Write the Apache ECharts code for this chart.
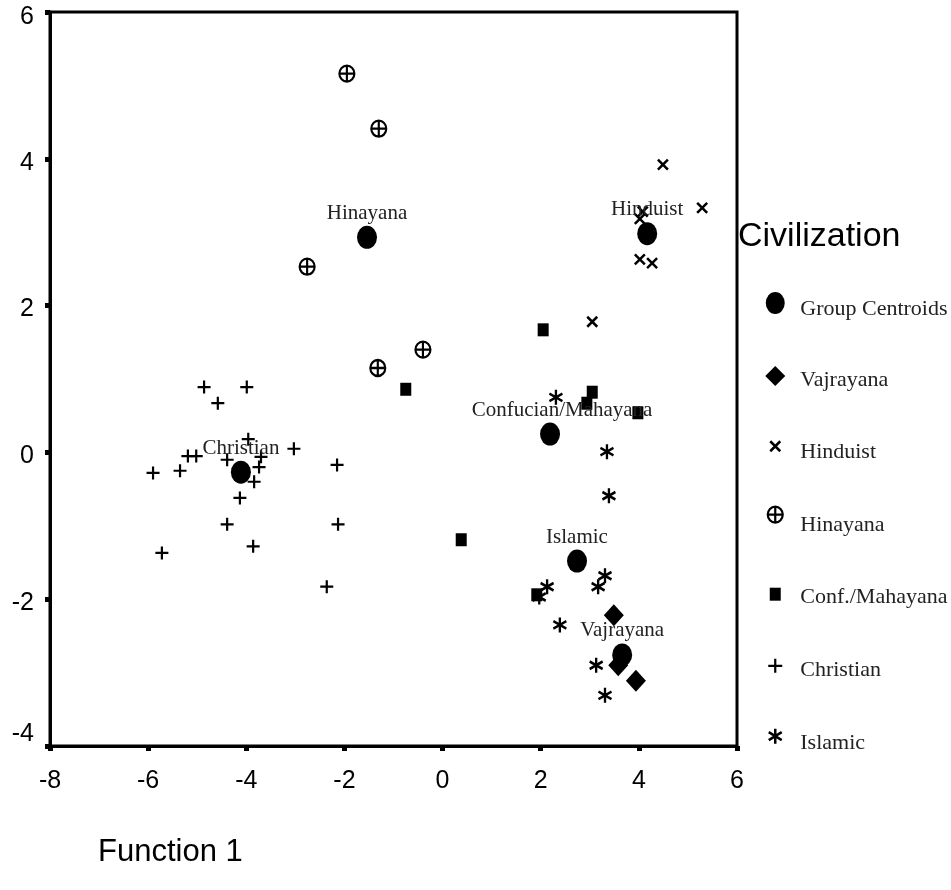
<!DOCTYPE html>
<html>
<head>
<meta charset="utf-8">
<script src="https://cdn.jsdelivr.net/npm/echarts@6/dist/echarts.min.js"></script>
<style>
  html, body { margin: 0; padding: 0; background: #fff; }
  #chart { width: 951px; height: 890px; }
</style>
</head>
<body>
<div id="chart"></div>
<script>
// discriminant scores
const centroidNames = ['Hinayana', 'Hinduist', 'Confucian/Mahayana', 'Christian', 'Islamic', 'Vajrayana'];
const centroidX = [-1.54, 4.17, 2.19, -4.11, 2.74, 3.66];
const centroidY = [2.93, 2.98, 0.25, -0.27, -1.48, -2.76];

const vajrayanaX = [3.49, 3.58, 3.94];
const vajrayanaY = [-2.22, -2.90, -3.11];

const hinduistX = [4.49, 5.29, 4.08, 4.02, 4.02, 4.27, 3.05];
const hinduistY = [3.92, 3.33, 3.28, 3.18, 2.63, 2.58, 1.78];

const hinayanaX = [-1.95, -1.30, -2.76, -0.40, -1.32];
const hinayanaY = [5.16, 4.41, 2.53, 1.40, 1.15];

const confX = [-0.75, 2.05, 3.05, 2.94, 3.98, 0.38, 1.92];
const confY = [0.86, 1.67, 0.82, 0.67, 0.54, -1.19, -1.94];

const christianX = [-4.86, -3.99, -4.58, -3.96, -3.03, -5.19, -5.02, -4.39, -3.70, -3.74,
  -5.90, -5.35, -2.15, -3.84, -4.13, -4.39, -2.13, -3.86, -5.72, -2.36];
const christianY = [0.89, 0.89, 0.67, 0.18, 0.05, -0.05, -0.05, -0.10, -0.06, -0.20,
  -0.28, -0.25, -0.17, -0.40, -0.62, -0.98, -0.98, -1.28, -1.37, -1.83];

const islamicX = [2.31, 3.35, 3.39, 2.13, 1.97, 3.31, 3.17, 2.39, 3.13, 3.31];
const islamicY = [0.75, 0.01, -0.59, -1.83, -1.97, -1.68, -1.83, -2.35, -2.90, -3.31];

const legendNames = ['Group Centroids', 'Vajrayana', 'Hinduist', 'Hinayana', 'Conf./Mahayana', 'Christian', 'Islamic'];

const pair = (xs, ys) => xs.map((x, i) => [x, ys[i]]);

// line symbols (stroked)
const symX = 'path://M0,0L10,10M10,0L0,10';
const symPlus = 'path://M5,0L5,10M0,5L10,5';
const symAst = 'path://M5,0L5,10M0.7,2.5L9.3,7.5M0.7,7.5L9.3,2.5';
const symCirclePlus = 'path://M10,5A5,5 0 1 1 0,5A5,5 0 1 1 10,5ZM5,0L5,10M0,5L10,5';

// legend icons drawn inside a 40x40 box; the shape sits a bit above the text line
const pad = 'M0,0M40,40';
const icons = [
  'path://' + pad + 'M29.5,14A9.5,11 0 1 1 10.5,14A9.5,11 0 1 1 29.5,14Z',
  'path://' + pad + 'M20,6L30,16L20,26L10,16Z',
  'path://' + pad + 'M15,9L25,19M25,9L15,19',
  'path://' + pad + 'M27.5,9A7.5,8 0 1 1 12.5,9A7.5,8 0 1 1 27.5,9ZM20,1L20,17M12.5,9L27.5,9',
  'path://' + pad + 'M14.5,10L25.5,10L25.5,23L14.5,23Z',
  'path://' + pad + 'M20,9L20,23M13,16L27,16',
  'path://' + pad + 'M20,5.5L20,20.5M13.5,9L26.5,17M13.5,17L26.5,9'
];
const iconBorder = [0, 0, 2.5, 2.2, 0, 2.2, 2.5];

const serif = '"Liberation Serif", "DejaVu Serif", serif';
const sans = '"Liberation Sans", Arial, sans-serif';
const clear = 'rgba(0,0,0,0)';

const chart = echarts.init(document.getElementById('chart'));

const option = {
  animation: false,
  backgroundColor: '#fff',
  title: [
    { text: 'Civilization', left: 733, top: 215, textStyle: { fontFamily: sans, fontSize: 34, fontWeight: 'normal', color: '#000' } },
    { text: 'Function 1', left: 93, top: 832, textStyle: { fontFamily: sans, fontSize: 31, fontWeight: 'normal', color: '#000' } }
  ],
  legend: {
    orient: 'vertical',
    left: 754,
    top: 289,
    padding: 0,
    itemWidth: 40,
    itemHeight: 40,
    itemGap: 31,
    selectedMode: false,
    textStyle: { fontFamily: serif, fontSize: 22, color: '#222' },
    data: legendNames.map((n, i) => ({ name: n, icon: icons[i], itemStyle: { borderWidth: iconBorder[i], opacity: 1 } }))
  },
  grid: { left: 50, right: 214, top: 12, bottom: 144, show: true, borderColor: '#000', borderWidth: 3 },
  xAxis: {
    type: 'value', min: -8, max: 6, interval: 2,
    splitLine: { show: false },
    axisLine: { show: true, onZero: false, lineStyle: { color: '#000', width: 3 } },
    axisTick: { show: true, length: 5, lineStyle: { color: '#000', width: 5 } },
    axisLabel: { margin: 23, fontFamily: sans, fontSize: 25, color: '#000', showMinLabel: true, showMaxLabel: true }
  },
  yAxis: {
    type: 'value', min: -4, max: 6, interval: 2,
    splitLine: { show: false },
    axisLine: { show: true, onZero: false, lineStyle: { color: '#000', width: 3 } },
    axisTick: { show: true, length: 5, lineStyle: { color: '#000', width: 5 } },
    axisLabel: {
      margin: 16, fontFamily: sans, fontSize: 25, color: '#000', showMinLabel: true, showMaxLabel: true,
      formatter: v => v === 6 ? '{t|6}' : v === -4 ? '{b|-4}' : '{m|' + v + '}',
      rich: {
        t: { fontFamily: sans, fontSize: 25, color: '#000', padding: [10, 0, 0, 0] },
        b: { fontFamily: sans, fontSize: 25, color: '#000', padding: [0, 0, 24, 0] },
        m: { fontFamily: sans, fontSize: 25, color: '#000', padding: [8, 0, 0, 0] }
      }
    }
  },
  series: [
    {
      name: 'Group Centroids', type: 'scatter', z: 5,
      symbol: 'circle', symbolSize: [20, 23],
      itemStyle: { color: '#000', opacity: 1 },
      label: {
        show: true, position: 'top', distance: 2,
        fontFamily: serif, fontSize: 21, color: '#222',
        formatter: p => centroidNames[p.dataIndex]
      },
      data: pair(centroidX, centroidY).map((d, i) => i === 2 ? { value: d, label: { offset: [12, 0] } } : d)
    },
    {
      name: 'Vajrayana', type: 'scatter', symbol: 'diamond', symbolSize: [20, 22],
      itemStyle: { color: '#000', opacity: 1 }, data: pair(vajrayanaX, vajrayanaY)
    },
    {
      name: 'Hinduist', type: 'scatter', symbol: symX, symbolSize: 10,
      itemStyle: { color: clear, borderColor: '#000', borderWidth: 2.5, opacity: 1 }, data: pair(hinduistX, hinduistY)
    },
    {
      name: 'Hinayana', type: 'scatter', symbol: symCirclePlus, symbolSize: [15, 16],
      itemStyle: { color: clear, borderColor: '#000', borderWidth: 2.2, opacity: 1 }, data: pair(hinayanaX, hinayanaY)
    },
    {
      name: 'Conf./Mahayana', type: 'scatter', symbol: 'rect', symbolSize: [11, 13],
      itemStyle: { color: '#000', opacity: 1 }, data: pair(confX, confY)
    },
    {
      name: 'Christian', type: 'scatter', symbol: symPlus, symbolSize: 13,
      itemStyle: { color: clear, borderColor: '#000', borderWidth: 2.2, opacity: 1 }, data: pair(christianX, christianY)
    },
    {
      name: 'Islamic', type: 'scatter', symbol: symAst, symbolSize: [13, 15],
      itemStyle: { color: clear, borderColor: '#000', borderWidth: 2.5, opacity: 1 }, data: pair(islamicX, islamicY)
    }
  ]
};

chart.setOption(option);
</script>
</body>
</html>
